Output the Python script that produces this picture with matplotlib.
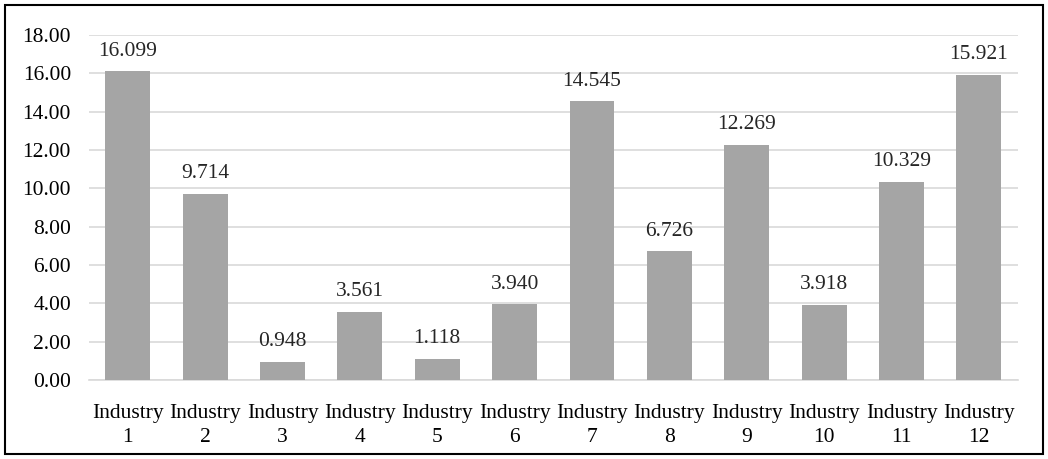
import matplotlib
matplotlib.use('Agg')
import matplotlib.pyplot as plt
from matplotlib.patches import Rectangle

categories = ['Industry\n1', 'Industry\n2', 'Industry\n3', 'Industry\n4', 'Industry\n5', 'Industry\n6',
              'Industry\n7', 'Industry\n8', 'Industry\n9', 'Industry\n10', 'Industry\n11', 'Industry\n12']
values = [16.099, 9.714, 0.948, 3.561, 1.118, 3.940, 14.545, 6.726, 12.269, 3.918, 10.329, 15.921]
yticks = [0, 2, 4, 6, 8, 10, 12, 14, 16, 18]

plt.rcParams['font.family'] = ['Liberation Serif', 'DejaVu Serif']
fs = 15.5

fig = plt.figure(figsize=(10.48, 4.59), dpi=100)
ax = fig.add_axes([0.085, 0.172, 0.886, 0.752])

x = range(len(values))
bars = ax.bar(x, values, width=0.58, color='#A5A5A5', zorder=3)
for i, v in enumerate(values):
    ax.text(i, v + 0.55, '%.3f' % v, ha='center', va='bottom', color='#262626', fontsize=fs)

ax.set_xlim(-0.5, len(values) - 0.5)
ax.set_ylim(0, 18)
ax.set_yticks(yticks)
ax.set_yticklabels(['%.2f' % t for t in yticks])
ax.set_xticks(list(x))
ax.set_xticklabels(categories, linespacing=1.4)
ax.yaxis.grid(True, color='#D9D9D9', linewidth=1.2, zorder=0)
for s in ['top', 'right', 'left']:
    ax.spines[s].set_visible(False)
ax.spines['bottom'].set_color('#D9D9D9')
ax.spines['bottom'].set_linewidth(1.2)
ax.tick_params(axis='both', length=0, colors='black', labelsize=fs)
ax.tick_params(axis='y', pad=13)
ax.tick_params(axis='x', pad=17)

fig.patches.append(Rectangle((0.005, 0.01), 0.99, 0.98, transform=fig.transFigure,
                             fill=False, edgecolor='black', linewidth=1.5))

plt.savefig('out.png', dpi=100)
